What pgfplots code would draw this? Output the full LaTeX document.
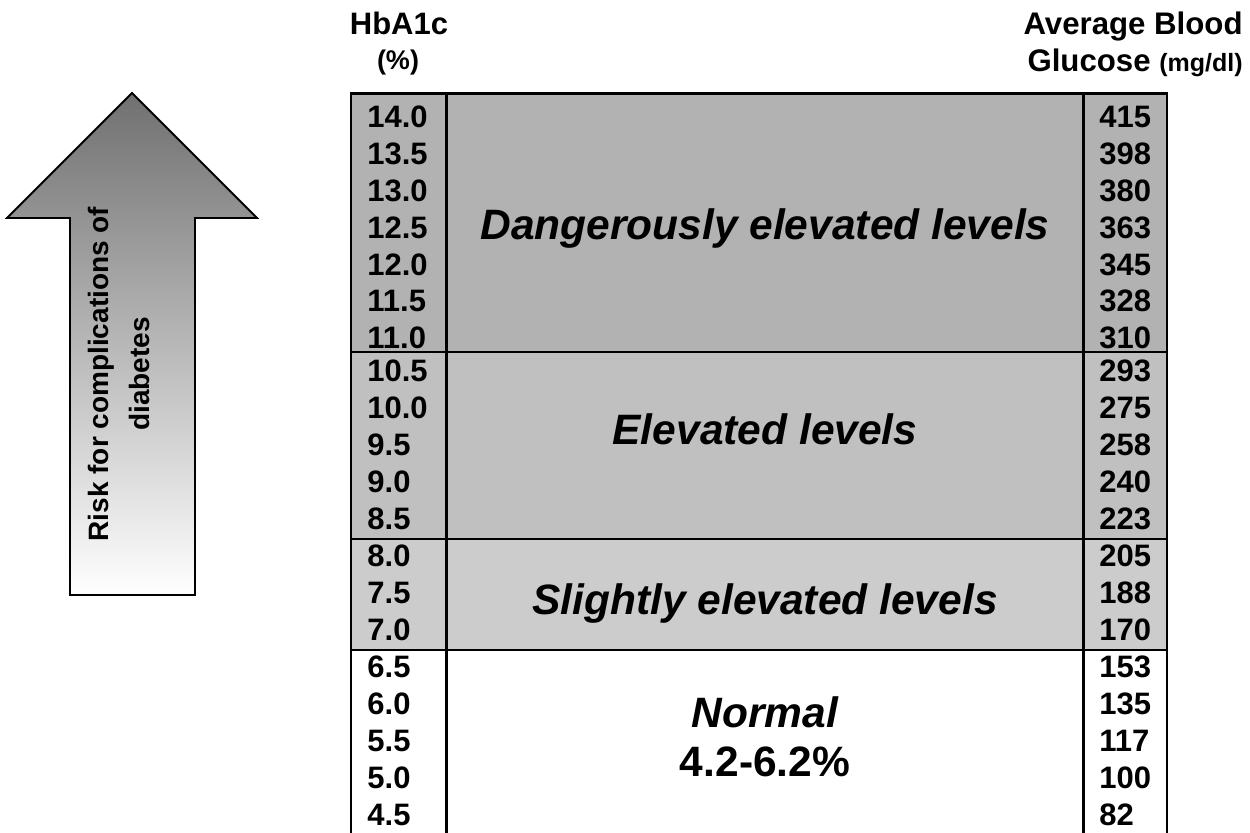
\documentclass[border=0pt]{standalone}
\usepackage{pgfplots}
\pgfplotsset{compat=1.18}
\usepackage{pgfplotstable}
\usepackage{fontspec}
\setmainfont{Liberation Sans}
\definecolor{dang}{RGB}{178,178,178}
\definecolor{elev}{RGB}{192,192,192}
\definecolor{slight}{RGB}{204,204,204}
\definecolor{arrtop}{RGB}{112,112,112}

\pgfplotstableread{
base hba glu
128 14.0 415
165 13.5 398
202 13.0 380
239 12.5 363
276 12.0 345
312 11.5 328
349 11.0 310
382 10.5 293
419 10.0 275
456 9.5 258
493 9.0 240
530 8.5 223
567 8.0 205
604 7.5 188
641 7.0 170
678 6.5 153
715 6.0 135
752 5.5 117
789 5.0 100
826 4.5 82
}\rows

\begin{document}
\begin{tikzpicture}
\begin{axis}[
  width=625pt, height=416.5pt, scale only axis,
  xmin=0, xmax=1250, ymin=0, ymax=833, y dir=reverse,
  hide axis, clip=false,
]
% bands
\addplot[draw=none, fill=dang, mark=none] coordinates {(351,93.5) (1167,93.5) (1167,352) (351,352)} -- cycle;
\addplot[draw=none, fill=elev, mark=none] coordinates {(351,352) (1167,352) (1167,539) (351,539)} -- cycle;
\addplot[draw=none, fill=slight, mark=none] coordinates {(351,539) (1167,539) (1167,650) (351,650)} -- cycle;
% lines
\addplot[black, line width=1.1pt, mark=none] coordinates {(351,834) (351,93.5) (1167,93.5) (1167,834)};
\addplot[black, line width=1.1pt, mark=none] coordinates {(446.5,93.5) (446.5,834)};
\addplot[black, line width=1.1pt, mark=none] coordinates {(1083.5,93.5) (1083.5,834)};
\addplot[black, line width=1.1pt, mark=none] coordinates {(351,352) (1167,352)};
\addplot[black, line width=1.1pt, mark=none] coordinates {(351,539) (1167,539)};
\addplot[black, line width=1.1pt, mark=none] coordinates {(351,650) (1167,650)};
% arrow
\addplot[draw=black, line width=0.9pt, top color=arrtop, bottom color=white, line join=miter, mark=none]
  coordinates {(132,93) (257,218) (195,218) (195,595) (70,595) (70,218) (7,218)} -- cycle;
\node[rotate=90, align=center, font=\fontsize{14}{20.5}\selectfont\bfseries] at (axis cs:119,374)
  {\bfseries Risk for complications of\\\bfseries diabetes};
% values
\addplot[only marks, mark=none, nodes near coords, point meta=explicit symbolic,
  every node near coord/.append style={anchor=base west, inner sep=0pt, font=\fontsize{15.5}{18}\selectfont\bfseries, text=black}]
  table[x expr=367, y=base, meta=hba] {\rows};
\addplot[only marks, mark=none, nodes near coords, point meta=explicit symbolic,
  every node near coord/.append style={anchor=base west, inner sep=0pt, font=\fontsize{15.5}{18}\selectfont\bfseries, text=black}]
  table[x expr=1099, y=base, meta=glu] {\rows};
% headers
\node[anchor=base, inner sep=0pt, font=\fontsize{15.5}{18}\selectfont\bfseries] at (axis cs:399,35) {HbA1c};
\node[anchor=base, inner sep=0pt, font=\fontsize{13.5}{16}\selectfont\bfseries] at (axis cs:398,70) {(\%)};
\node[anchor=base east, inner sep=0pt, font=\fontsize{15.6}{18}\selectfont\bfseries] at (axis cs:1243,35) {Average Blood};
\node[anchor=base east, inner sep=0pt, font=\fontsize{15.6}{18}\selectfont\bfseries] at (axis cs:1243,72) {Glucose {\fontsize{12.5}{14}\selectfont (mg/dl)}};
% band labels
\node[anchor=base, inner sep=0pt, font=\fontsize{21.25}{25}\selectfont\bfseries\itshape] at (axis cs:765,240) {Dangerously elevated levels};
\node[anchor=base, inner sep=0pt, font=\fontsize{21.25}{25}\selectfont\bfseries\itshape] at (axis cs:765,445) {Elevated levels};
\node[anchor=base, inner sep=0pt, font=\fontsize{21.25}{25}\selectfont\bfseries\itshape] at (axis cs:765,615) {Slightly elevated levels};
\node[anchor=base, inner sep=0pt, font=\fontsize{21.25}{25}\selectfont\bfseries\itshape] at (axis cs:765,728) {Normal};
\node[anchor=base, inner sep=0pt, font=\fontsize{21.25}{25}\selectfont\bfseries] at (axis cs:765,777) {4.2-6.2\%};
\end{axis}
\pgfresetboundingbox
\path[use as bounding box] (current axis.south west) rectangle (current axis.north east);
\end{tikzpicture}
\end{document}
